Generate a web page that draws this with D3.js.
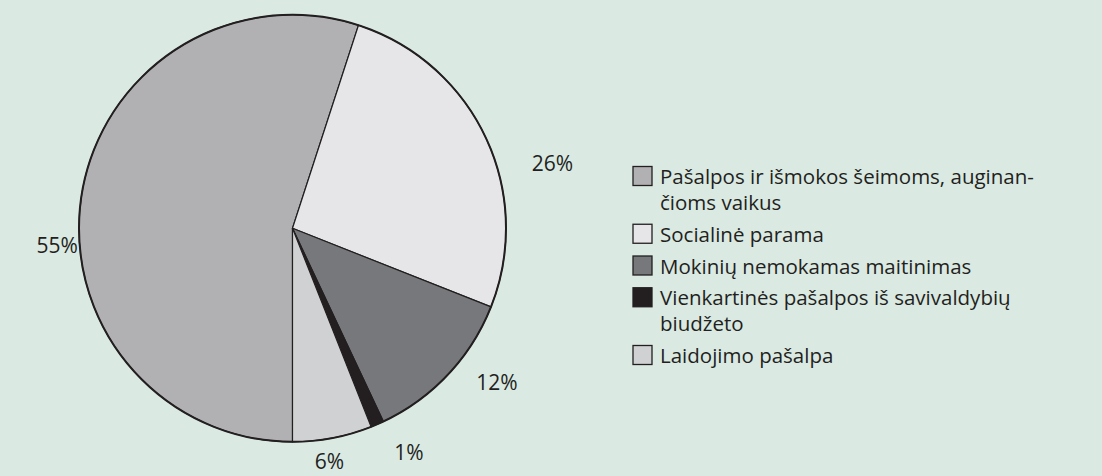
<!DOCTYPE html>
<html>
<head>
<meta charset="utf-8">
<script src="https://cdn.jsdelivr.net/npm/d3@7"></script>
<style>
  html, body { margin: 0; padding: 0; background: #dae9e2; }
  svg { display: block; }
  text { font-family: "Open Sans", "Noto Sans", sans-serif; fill: #231f20; }
</style>
</head>
<body>
<svg id="chart" width="1102" height="476"></svg>
<script>
// ---- data ----
const categories = [
  "Pašalpos ir išmokos šeimoms, auginančioms vaikus",
  "Socialinė parama",
  "Mokinių nemokamas maitinimas",
  "Vienkartinės pašalpos iš savivaldybių biudžeto",
  "Laidojimo pašalpa"
];
const legendLines = [
  ["Pašalpos ir išmokos šeimoms, auginan-", "čioms vaikus"],
  ["Socialinė parama"],
  ["Mokinių nemokamas maitinimas"],
  ["Vienkartinės pašalpos iš savivaldybių", "biudžeto"],
  ["Laidojimo pašalpa"]
];
const values = [55, 26, 12, 1, 6];
const valueLabels = ["55%", "26%", "12%", "1%", "6%"];

// ---- styling ----
const colors = ["#b1b1b4", "#e6e6e8", "#77787b", "#231f20", "#d0d1d3"];
const cx = 292.5, cy = 228.3, R = 213.5;
// label placement: angle (deg, clockwise from top) and radius
const labelPos = [
  { a: 266, r: 236 },
  { a: 76, r: 268 },
  { a: 127, r: 256 },
  { a: 152.5, r: 252 },
  { a: 171, r: 236 }
];

const svg = d3.select("#chart");
svg.append("rect").attr("width", 1102).attr("height", 476).attr("fill", "#dae9e2");

const pie = d3.pie().sort(null).value(d => d)
  .startAngle(Math.PI).endAngle(3 * Math.PI);
const arcs = pie(values);
const arc = d3.arc().innerRadius(0).outerRadius(R);

const g = svg.append("g").attr("transform", `translate(${cx},${cy})`);
g.selectAll("path.slice").data(arcs).enter().append("path")
  .attr("class", "slice")
  .attr("d", arc)
  .attr("fill", (d, i) => colors[i])
  .attr("stroke", "#231f20")
  .attr("stroke-width", 1.2)
  .attr("stroke-linejoin", "round");

g.append("circle").attr("r", R).attr("fill", "none")
  .attr("stroke", "#231f20").attr("stroke-width", 2);

g.selectAll("text.lbl").data(arcs).enter().append("text")
  .attr("class", "lbl")
  .attr("transform", (d, i) => {
    const p = d3.pointRadial(labelPos[i].a * Math.PI / 180, labelPos[i].r);
    return `translate(${p[0]},${p[1]})`;
  })
  .attr("text-anchor", "middle")
  .attr("dominant-baseline", "central")
  .style("font-size", "21px")
  .text((d, i) => valueLabels[i]);

// ---- legend ----
const legX = 633, legY0 = 176, lineStep = 26, itemStep = 31.75, sq = 19;
let y = legY0;
const leg = svg.append("g");
legendLines.forEach((lines, i) => {
  const item = leg.append("g");
  item.append("rect")
    .attr("x", legX).attr("y", y - sq / 2)
    .attr("width", sq).attr("height", sq)
    .attr("fill", colors[i]).attr("stroke", "#231f20").attr("stroke-width", 1.3);
  lines.forEach((ln, j) => {
    item.append("text")
      .attr("x", legX + sq + 8)
      .attr("y", y + j * lineStep)
      .attr("dominant-baseline", "central")
      .style("font-size", "20.5px")
      .text(ln);
  });
  y += (lines.length - 1) * lineStep + itemStep;
});
</script>
</body>
</html>
